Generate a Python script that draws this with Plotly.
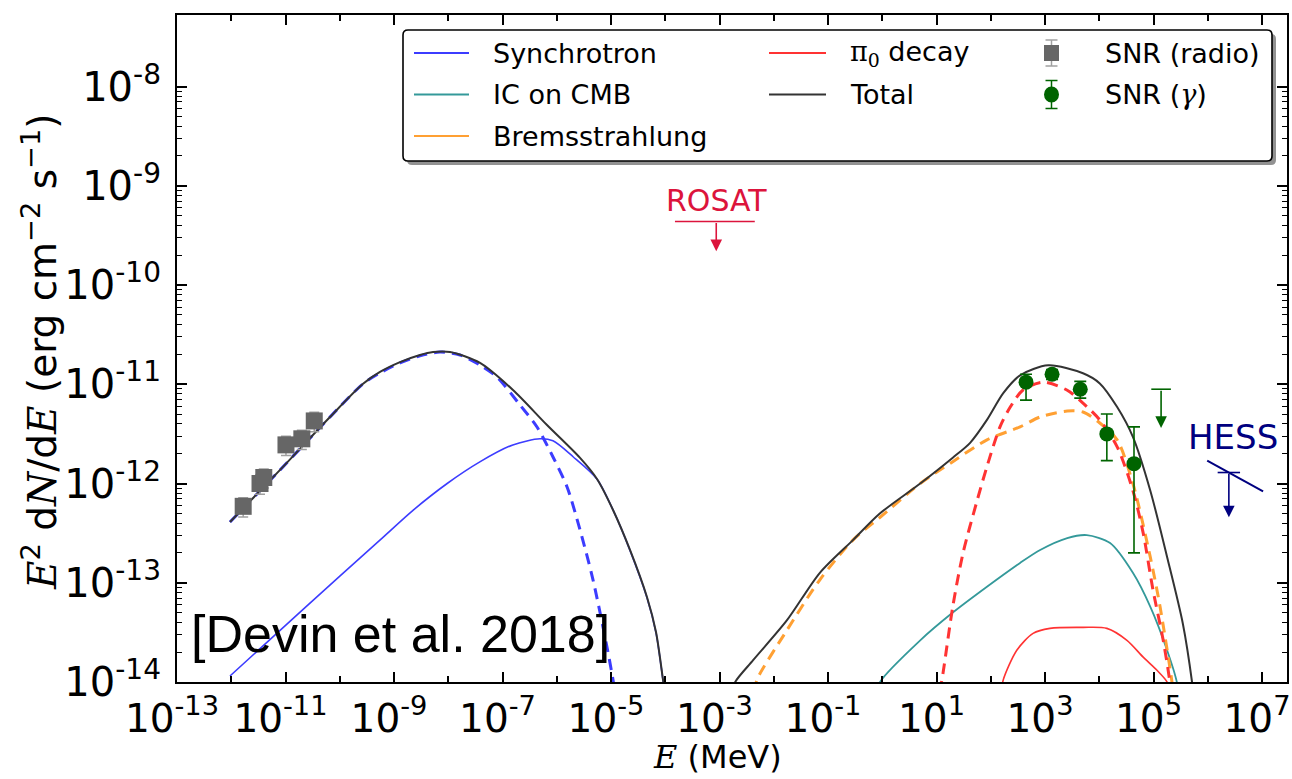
import numpy as np
import plotly.graph_objects as go

# ---------------- data (E in MeV, E^2 dN/dE in erg cm^-2 s^-1) ----------------
sync_dash_E = [9.48e-13, 7.94e-12, 6.61e-11, 2.69e-10, 5.52e-10, 1.29e-9, 3.01e-9, 7.05e-9, 1.65e-8,
               3.85e-8, 7.92e-8, 2.10e-7, 4.33e-7, 8.53e-7, 1.55e-6, 2.69e-6, 4.66e-6, 8.43e-6,
               1.09e-5, 1.24e-5]
sync_dash_F = [4.09e-13, 1.37e-12, 4.68e-12, 1.01e-11, 1.30e-11, 1.64e-11, 1.93e-11, 2.11e-11, 1.97e-11,
               1.56e-11, 1.18e-11, 6.18e-12, 3.71e-12, 1.85e-12, 9.23e-13, 3.40e-13, 1.07e-13,
               2.25e-14, 1.05e-14, 6.6e-15]

sync_E = [9.48e-13, 2.29e-11, 5.50e-10, 2.24e-9, 9.55e-9, 3.89e-8, 1.55e-7, 4.90e-7, 8.51e-7,
          2.00e-6, 5.50e-6, 1.10e-5, 2.24e-5, 4.60e-5, 6.75e-5, 9.10e-5, 1.03e-4]
sync_F = [1.15e-14, 5.62e-14, 2.69e-13, 5.37e-13, 1.00e-12, 1.66e-12, 2.45e-12, 2.82e-12, 2.69e-12,
          1.86e-12, 1.11e-12, 5.35e-13, 2.12e-13, 7.10e-14, 3.15e-14, 1.04e-14, 6.5e-15]

total_lo_E = [9.48e-13, 7.94e-12, 6.61e-11, 2.69e-10, 5.52e-10, 1.29e-9, 3.01e-9, 5.24e-9, 1.08e-8,
              3.85e-8, 1.56e-7, 6.61e-7, 2.69e-6, 5.52e-6, 1.09e-5, 2.24e-5, 4.60e-5, 6.75e-5,
              9.10e-5, 1.03e-4]
total_lo_F = [4.09e-13, 1.37e-12, 4.68e-12, 1.01e-11, 1.33e-11, 1.67e-11, 1.97e-11, 2.11e-11, 2.11e-11,
              1.64e-11, 8.75e-12, 3.88e-12, 1.81e-12, 1.11e-12, 5.41e-13, 2.14e-13, 7.18e-14,
              3.19e-14, 1.05e-14, 6.6e-15]

total_hi_E = [1.74e-3, 1.95e-3, 4.17e-3, 1.74e-2, 7.08e-2, 0.288, 0.912, 5.01, 19.95, 41.7, 85.1,
              170, 347, 1148, 5012, 1.023e4, 2.14e4, 4.17e4, 8.71e4, 1.78e5, 3.47e5, 5.13e5, 5.62e5]
total_hi_F = [7.94e-15, 1.0e-14, 1.66e-14, 4.17e-14, 1.26e-13, 2.69e-13, 5.01e-13, 1.0e-12, 1.82e-12,
              2.57e-12, 4.37e-12, 8.13e-12, 1.23e-11, 1.55e-11, 1.29e-11, 1.02e-11, 5.89e-12,
              2.95e-12, 8.51e-13, 1.82e-13, 3.89e-14, 1.0e-14, 6.31e-15]

brems_E = [4.47e-3, 4.90e-3, 1.74e-2, 7.08e-2, 0.288, 0.912, 5.01, 19.95, 85.1, 347, 813, 2570,
           5012, 1.023e4, 2.14e4, 4.17e4, 8.71e4, 1.32e5, 2.19e5, 2.40e5]
brems_F = [7.94e-15, 1.05e-14, 3.31e-14, 1.07e-13, 2.69e-13, 4.57e-13, 1.0e-12, 1.66e-12, 2.75e-12,
           3.72e-12, 4.68e-12, 5.37e-12, 5.25e-12, 4.07e-12, 2.75e-12, 1.0e-12, 1.82e-13,
           5.75e-14, 1.0e-14, 6.31e-15]

pi0_dash_E = [11.5, 13.2, 19.95, 30.9, 56.2, 85.1, 148, 229, 389, 912, 2570, 5012, 1.023e4,
              2.14e4, 4.17e4, 6.46e4, 9.77e4, 1.51e5, 2.0e5, 2.14e5]
pi0_dash_F = [7.94e-15, 1.23e-14, 5.75e-14, 2.0e-13, 6.76e-13, 1.48e-12, 3.72e-12, 5.89e-12,
              8.71e-12, 1.05e-11, 8.71e-12, 6.46e-12, 4.37e-12, 2.34e-12, 8.51e-13, 3.16e-13,
              8.51e-14, 2.63e-14, 1.0e-14, 6.31e-15]

ic_E = [0.832, 0.912, 5.01, 19.95, 85.1, 347, 813, 2570, 5888, 1.585e4, 4.17e4, 8.71e4,
        1.78e5, 2.69e5, 2.95e5]
ic_F = [7.94e-15, 1.0e-14, 2.63e-14, 5.01e-14, 9.12e-14, 1.585e-13, 2.14e-13, 2.82e-13, 3.02e-13,
        2.51e-13, 1.26e-13, 5.75e-14, 2.09e-14, 1.0e-14, 6.31e-15]

pi0_E = [158, 170, 302, 603, 1230, 5012, 1.38e4, 3.24e4, 6.46e4, 1.148e5, 1.78e5, 1.905e5]
pi0_F = [7.94e-15, 1.05e-14, 2.09e-14, 3.09e-14, 3.47e-14, 3.55e-14, 3.47e-14, 2.63e-14,
         1.78e-14, 1.32e-14, 1.0e-14, 8.0e-15]

radio_E = [1.66e-12, 3.39e-12, 3.98e-12, 1.02e-11, 2.0e-11, 3.39e-11]
radio_F = [5.89e-13, 1.0e-12, 1.15e-12, 2.45e-12, 2.82e-12, 4.27e-12]
radio_err = [1.3e-13, 2.2e-13, 2.5e-13, 5.4e-13, 6.2e-13, 9.4e-13]

gamma_E = [447, 1349, 4467, 1.38e4, 4.37e4]
gamma_F = [1.05e-11, 1.26e-11, 8.91e-12, 3.16e-12, 1.585e-12]
gamma_lo = [6.92e-12, 1.12e-11, 7.24e-12, 1.70e-12, 2.0e-13]
gamma_hi = [1.26e-11, 1.41e-11, 1.07e-11, 5.01e-12, 3.72e-12]

gamma_ul_E = [1.38e5]
gamma_ul_F = [8.91e-12]
gamma_ul_tip = [3.63e-12]

rosat_E = [1.51e-4, 4.47e-3]
rosat_F = [4.37e-10, 4.37e-10]
rosat_arrow_E = 8.71e-4
rosat_arrow_tip = 2.19e-10

hess_E = [9.77e5, 1.047e7]
hess_F = [1.70e-12, 8.32e-13]
hess_arrow_E = 2.45e6
hess_arrow_top = 1.29e-12
hess_arrow_tip = 4.57e-13

x_ticks = [1e-13, 1e-11, 1e-9, 1e-7, 1e-5, 1e-3, 1e-1, 1e1, 1e3, 1e5, 1e7]
x_ticktext = ["10<sup>-13</sup>", "10<sup>-11</sup>", "10<sup>-9</sup>", "10<sup>-7</sup>",
              "10<sup>-5</sup>", "10<sup>-3</sup>", "10<sup>-1</sup>", "10<sup>1</sup>",
              "10<sup>3</sup>", "10<sup>5</sup>", "10<sup>7</sup>"]
x_minor = [1e-12, 1e-10, 1e-8, 1e-6, 1e-4, 1e-2, 1e0, 1e2, 1e4, 1e6]
y_ticks = [1e-14, 1e-13, 1e-12, 1e-11, 1e-10, 1e-9, 1e-8]
y_ticktext = ["10<sup>-14</sup>", "10<sup>-13</sup>", "10<sup>-12</sup>", "10<sup>-11</sup>",
              "10<sup>-10</sup>", "10<sup>-9</sup>", "10<sup>-8</sup>"]

# ---------------- styling ----------------
W, H = 1292, 779
ML, MR, MT, MB = 177, 5, 15, 97
PW, PH = W - ML - MR, H - MT - MB

C_SYN = "#3c3cff"
C_IC = "#34999a"
C_BREM = "#ffa033"
C_PI0 = "#ff3333"
C_TOT = "#333333"
C_GAM = "#006400"
C_RAD = "#666666"
C_RADERR = "#a0a0a0"
C_ROSAT = "#dc143c"
C_HESS = "#000080"
SANS = "DejaVu Sans"
SERIF = "DejaVu Serif"


def px(x):
    return (x - ML) / PW


def py(y):
    return (H - MB - y) / PH


fig = go.Figure()


def curve(E, F, color, width, dash=None):
    fig.add_trace(go.Scatter(
        x=E, y=F, mode="lines", showlegend=False, hoverinfo="skip",
        line=dict(color=color, width=width, dash=dash, shape="spline", smoothing=0.8)))


DASH = "11px,7px"
curve(sync_E, sync_F, C_SYN, 1.6)
curve(ic_E, ic_F, C_IC, 1.8)
curve(pi0_E, pi0_F, C_PI0, 1.6)
curve(brems_E, brems_F, C_BREM, 3, DASH)
curve(pi0_dash_E, pi0_dash_F, C_PI0, 3, DASH)
curve(sync_dash_E, sync_dash_F, C_SYN, 3, DASH)
curve(total_lo_E, total_lo_F, C_TOT, 2)
curve(total_hi_E, total_hi_F, C_TOT, 2)

# ROSAT and HESS upper limits
fig.add_trace(go.Scatter(x=rosat_E, y=rosat_F, mode="lines", showlegend=False, hoverinfo="skip",
                         line=dict(color=C_ROSAT, width=1.6)))
fig.add_trace(go.Scatter(x=hess_E, y=hess_F, mode="lines", showlegend=False, hoverinfo="skip",
                         line=dict(color=C_HESS, width=2)))
fig.add_trace(go.Scatter(x=[hess_arrow_E], y=[hess_arrow_top], mode="markers", showlegend=False,
                         hoverinfo="skip", marker=dict(symbol="line-ew", size=16,
                                                       line=dict(color=C_HESS, width=1.6))))

# data points
fig.add_trace(go.Scatter(
    x=radio_E, y=radio_F, mode="markers", showlegend=False,
    marker=dict(symbol="square", size=17, color=C_RAD),
    error_y=dict(type="data", array=radio_err, color=C_RADERR, thickness=1.5, width=5)))
fig.add_trace(go.Scatter(
    x=gamma_E, y=gamma_F, mode="markers", showlegend=False,
    marker=dict(symbol="circle", size=15, color=C_GAM),
    error_y=dict(type="data", symmetric=False,
                 array=[h - f for h, f in zip(gamma_hi, gamma_F)],
                 arrayminus=[f - l for f, l in zip(gamma_F, gamma_lo)],
                 color=C_GAM, thickness=1.6, width=6)))
fig.add_trace(go.Scatter(x=gamma_ul_E, y=gamma_ul_F, mode="markers", showlegend=False,
                         hoverinfo="skip", marker=dict(symbol="line-ew", size=14,
                                                       line=dict(color=C_GAM, width=1.6))))


def arrow(E, top, tip, color):
    fig.add_annotation(x=np.log10(E), y=np.log10(tip), ax=np.log10(E), ay=np.log10(top),
                       xref="x", yref="y", axref="x", ayref="y", text="", showarrow=True,
                       arrowhead=2, arrowsize=1.45, arrowwidth=1.6, arrowcolor=color, standoff=0,
                       startstandoff=0)


arrow(rosat_arrow_E, rosat_F[0], rosat_arrow_tip, C_ROSAT)
arrow(hess_arrow_E, hess_arrow_top, hess_arrow_tip, C_HESS)
arrow(gamma_ul_E[0], gamma_ul_F[0], gamma_ul_tip[0], C_GAM)

fig.add_annotation(x=np.log10(rosat_arrow_E), y=-9.15, xref="x", yref="y", text="ROSAT",
                   showarrow=False, xanchor="center", yanchor="middle",
                   font=dict(family=SANS, size=30, color=C_ROSAT))
fig.add_annotation(x=6.47, y=-11.53, xref="x", yref="y", text="HESS", showarrow=False,
                   xanchor="center", yanchor="middle", font=dict(family=SANS, size=34, color=C_HESS))
fig.add_annotation(x=px(400), y=py(634), xref="paper", yref="paper", text="[Devin et al. 2018]",
                   showarrow=False, xanchor="center", yanchor="middle",
                   font=dict(family="Liberation Sans", size=52, color="black"))

# axis titles
fig.add_annotation(x=px(717), y=py(757), xref="paper", yref="paper", xanchor="center", yanchor="middle",
                   text=f'<span style="font-family:{SERIF}"><i>E</i></span> (MeV)',
                   showarrow=False, font=dict(family=SANS, size=32, color="black"))
fig.add_annotation(x=px(40), y=py(352), xref="paper", yref="paper", textangle=-90,
                   xanchor="center", yanchor="middle",
                   text=(f'<span style="font-family:{SERIF}"><i>E</i></span><sup>2</sup> '
                         f'd<span style="font-family:{SERIF}"><i>N</i></span>/'
                         f'd<span style="font-family:{SERIF}"><i>E</i></span> '
                         '(erg cm<sup>\u22122</sup> s<sup>\u22121</sup>)'),
                   showarrow=False, font=dict(family=SANS, size=39, color="black"))

# ---------------- manual legend (frame + samples + labels) ----------------
shapes = []
LX0, LY0, LX1, LY1, R = 403, 30, 1272, 161, 5


def rrect(x0, y0, x1, y1, r):
    return (f"M {px(x0 + r)},{py(y0)} L {px(x1 - r)},{py(y0)} Q {px(x1)},{py(y0)} {px(x1)},{py(y0 + r)} "
            f"L {px(x1)},{py(y1 - r)} Q {px(x1)},{py(y1)} {px(x1 - r)},{py(y1)} "
            f"L {px(x0 + r)},{py(y1)} Q {px(x0)},{py(y1)} {px(x0)},{py(y1 - r)} "
            f"L {px(x0)},{py(y0 + r)} Q {px(x0)},{py(y0)} {px(x0 + r)},{py(y0)} Z")


shapes.append(dict(type="path", xref="paper", yref="paper", path=rrect(LX0 + 4, LY0 + 4, LX1 + 4, LY1 + 4, R),
                   fillcolor="rgba(110,110,110,0.75)", line=dict(width=0), layer="above"))
shapes.append(dict(type="path", xref="paper", yref="paper", path=rrect(LX0, LY0, LX1, LY1, R),
                   fillcolor="white", line=dict(color="black", width=1.6), layer="above"))

rows = [53, 94.5, 136]
line_items = [(414, 469, rows[0], C_SYN, "Synchrotron", 491),
              (414, 469, rows[1], C_IC, "IC on CMB", 491),
              (414, 469, rows[2], C_BREM, "Bremsstrahlung", 491),
              (769, 826, rows[0], C_PI0, f'<span style="font-family:{SERIF}">\u03c0<sub>0</sub></span> decay', 848),
              (769, 826, rows[1], C_TOT, "Total", 848)]
legend_labels = []
for x0, x1, yy, col, label, tx in line_items:
    shapes.append(dict(type="line", xref="paper", yref="paper", x0=px(x0), x1=px(x1), y0=py(yy), y1=py(yy),
                       line=dict(color=col, width=1.8), layer="above"))
    legend_labels.append((tx, yy, label))

mx = 1051.5
shapes.append(dict(type="line", xref="paper", yref="paper", x0=px(mx), x1=px(mx), y0=py(rows[0] - 13),
                   y1=py(rows[0] + 13), line=dict(color=C_RADERR, width=1.5), layer="above"))
for dy in (-13, 13):
    shapes.append(dict(type="line", xref="paper", yref="paper", x0=px(mx - 6), x1=px(mx + 6),
                       y0=py(rows[0] + dy), y1=py(rows[0] + dy), line=dict(color=C_RADERR, width=1.5),
                       layer="above"))
shapes.append(dict(type="rect", xref="paper", yref="paper", x0=px(mx - 7.5), x1=px(mx + 7.5),
                   y0=py(rows[0] - 8), y1=py(rows[0] + 8), fillcolor=C_RAD, line=dict(width=0), layer="above"))
shapes.append(dict(type="line", xref="paper", yref="paper", x0=px(mx), x1=px(mx), y0=py(rows[1] - 14),
                   y1=py(rows[1] + 14), line=dict(color=C_GAM, width=1.5), layer="above"))
for dy in (-14, 14):
    shapes.append(dict(type="line", xref="paper", yref="paper", x0=px(mx - 6), x1=px(mx + 6),
                       y0=py(rows[1] + dy), y1=py(rows[1] + dy), line=dict(color=C_GAM, width=1.5),
                       layer="above"))
shapes.append(dict(type="circle", xref="paper", yref="paper", x0=px(mx - 7.5), x1=px(mx + 7.5),
                   y0=py(rows[1] - 8), y1=py(rows[1] + 8), fillcolor=C_GAM, line=dict(width=0), layer="above"))
legend_labels.append((1103, rows[0], "SNR (radio)"))
legend_labels.append((1103, rows[1], f'SNR (<span style="font-family:{SERIF}"><i>\u03b3</i></span>)'))

for tx, yy, label in legend_labels:
    fig.add_annotation(x=px(tx), y=py(yy), xref="paper", yref="paper", text=label, showarrow=False,
                       xanchor="left", yanchor="middle", font=dict(family=SANS, size=27, color="black"))

axis_common = dict(type="log", showgrid=False, zeroline=False, showline=True, linecolor="black",
                   linewidth=2, mirror="allticks", ticks="inside", ticklen=10, tickwidth=2,
                   tickcolor="black", ticklabeloverflow="allow")

y_minor = [m * t for t in y_ticks[:-1] for m in range(2, 10)]

fig.update_layout(
    width=W, height=H, margin=dict(l=ML, r=MR, t=MT, b=MB, autoexpand=False),
    paper_bgcolor="white", plot_bgcolor="white", showlegend=False, shapes=shapes,
    xaxis=dict(axis_common, range=[-13, -13 + PW / 54.25], tickmode="array", tickvals=x_ticks,
               ticktext=x_ticktext, ticklabelstandoff=1, ticklabelshift=-5,
               tickfont=dict(family=SANS, size=39, color="black"),
               minor=dict(tickmode="array", tickvals=x_minor, ticks="inside", ticklen=6, tickwidth=1.6,
                          tickcolor="black", showgrid=False)),
    yaxis=dict(axis_common, range=[-14, -14 + PH / 99.25], tickmode="array", tickvals=y_ticks,
               ticktext=y_ticktext, ticklabelstandoff=6,
               tickfont=dict(family=SANS, size=40, color="black"),
               minor=dict(tickmode="array", tickvals=y_minor, ticks="inside", ticklen=5, tickwidth=1.2,
                          tickcolor="black", showgrid=False)),
)

fig.write_html("out.html")
